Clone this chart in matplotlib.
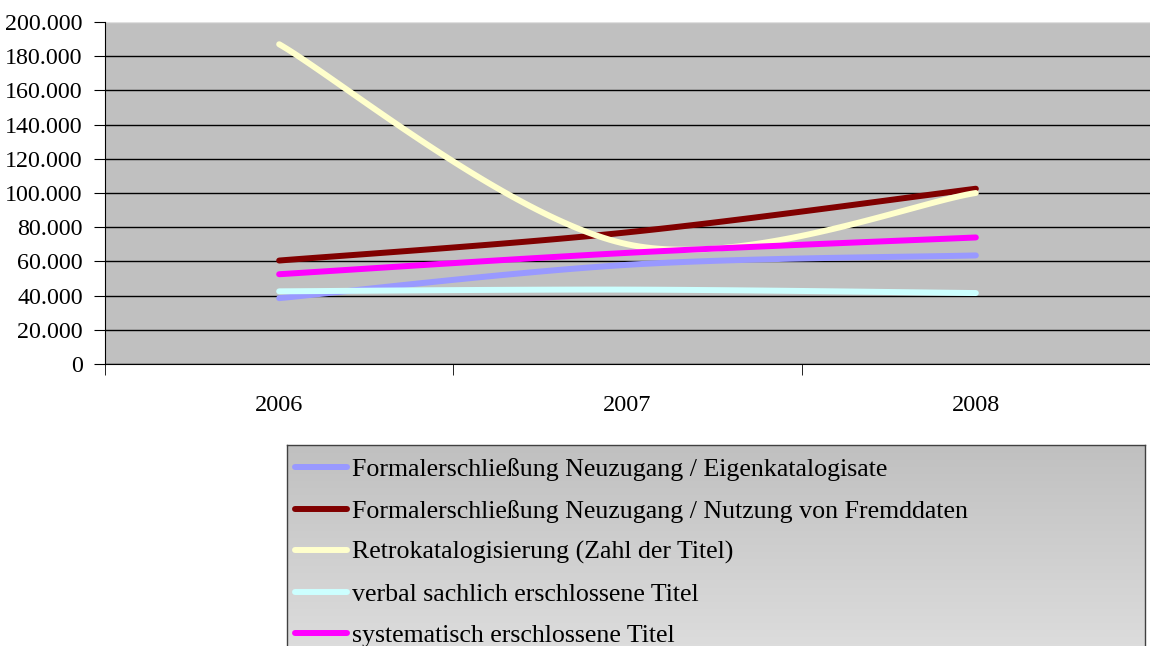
import matplotlib
matplotlib.use('Agg')
import matplotlib.pyplot as plt
from matplotlib.ticker import FuncFormatter
import numpy as np

years = ['2006', '2007', '2008']
eigen = [38500, 58000, 63500]
fremd = [60500, 77000, 102500]
retro = [187000, 70000, 100000]
verbal = [42500, 43500, 41500]
system = [52500, 65000, 74000]

labels = ['Formalerschließung Neuzugang / Eigenkatalogisate',
          'Formalerschließung Neuzugang / Nutzung von Fremddaten',
          'Retrokatalogisierung (Zahl der Titel)',
          'verbal sachlich erschlossene Titel',
          'systematisch erschlossene Titel']
colors = ['#9999ff', '#800000', '#ffffcc', '#ccffff', '#ff00ff']

plt.rcParams['font.family'] = ['Liberation Serif', 'DejaVu Serif']


def smooth(y, n=60):
    # Catmull-Rom style bezier like Excel smoothed lines
    x = np.arange(len(y), dtype=float)
    y = np.asarray(y, dtype=float)
    pts = np.column_stack([x, y])
    out = []
    for i in range(len(pts) - 1):
        p0 = pts[max(i - 1, 0)]
        p1 = pts[i]
        p2 = pts[i + 1]
        p3 = pts[min(i + 2, len(pts) - 1)]
        c1 = p1 + (p2 - p0) / 6
        c2 = p2 - (p3 - p1) / 6
        t = np.linspace(0, 1, n)[:, None]
        seg = ((1 - t) ** 3) * p1 + 3 * ((1 - t) ** 2) * t * c1 + 3 * (1 - t) * t ** 2 * c2 + t ** 3 * p2
        out.append(seg if i == 0 else seg[1:])
    seg = np.vstack(out)
    return seg[:, 0], seg[:, 1]


fig = plt.figure(figsize=(11.5, 6.46), dpi=100)
ax = fig.add_axes([105 / 1150, 1 - 364 / 646, 1 - 105 / 1150, (364 - 22) / 646])
ax.set_facecolor('#c0c0c0')

series = [eigen, fremd, retro, verbal, system]
handles = []
for vals, c, lab in zip(series, colors, labels):
    sx, sy = smooth(vals)
    h, = ax.plot(sx, sy, color=c, lw=4.3, solid_capstyle='round', label=lab)
    handles.append(h)

ax.set_ylim(0, 200000)
ax.set_xlim(-0.5, 2.5)
ax.set_yticks(np.arange(0, 200001, 20000))
ax.yaxis.set_major_formatter(FuncFormatter(lambda v, p: f'{int(v):,}'.replace(',', '.')))
ax.yaxis.grid(True, color='black', lw=1)
ax.get_ygridlines()[-1].set_color('#e0e0e0')
ax.set_axisbelow(True)
ax.set_xticks([0, 1, 2])
ax.set_xticklabels(years)
ax.set_xticks([-0.5, 0.5, 1.5, 2.5], minor=True)
ax.tick_params(axis='x', which='major', length=0, pad=22, labelsize=17.5)
ax.tick_params(axis='x', which='minor', length=8, direction='out', color='black')
ax.tick_params(axis='y', length=8, direction='out', labelsize=17.3, pad=8)
for s in ['top', 'right']:
    ax.spines[s].set_visible(False)
ax.spines['left'].set_color('black')
ax.spines['bottom'].set_color('black')

# legend box with gradient
lax = fig.add_axes([287 / 1150, -0.02, (1145 - 287) / 1150, 1 - 445 / 646 + 0.02])
grad = np.linspace(0, 1, 256)[:, None]
lax.imshow(grad, aspect='auto', cmap=matplotlib.colors.LinearSegmentedColormap.from_list('g', ['#c0c0c0', '#dedede']),
           extent=[0, 1, 0, 1], origin='upper')
lax.set_xticks([])
lax.set_yticks([])
for s in lax.spines.values():
    s.set_color('#404040')
    s.set_linewidth(1)
lax.legend(handles=handles, loc='upper left', bbox_to_anchor=(0.0093, 0.939), frameon=False,
           fontsize=18.6, handlelength=2.0, handletextpad=0.22, labelspacing=0.71, borderpad=0,
           borderaxespad=0)

fig.savefig('out.png', dpi=100)
